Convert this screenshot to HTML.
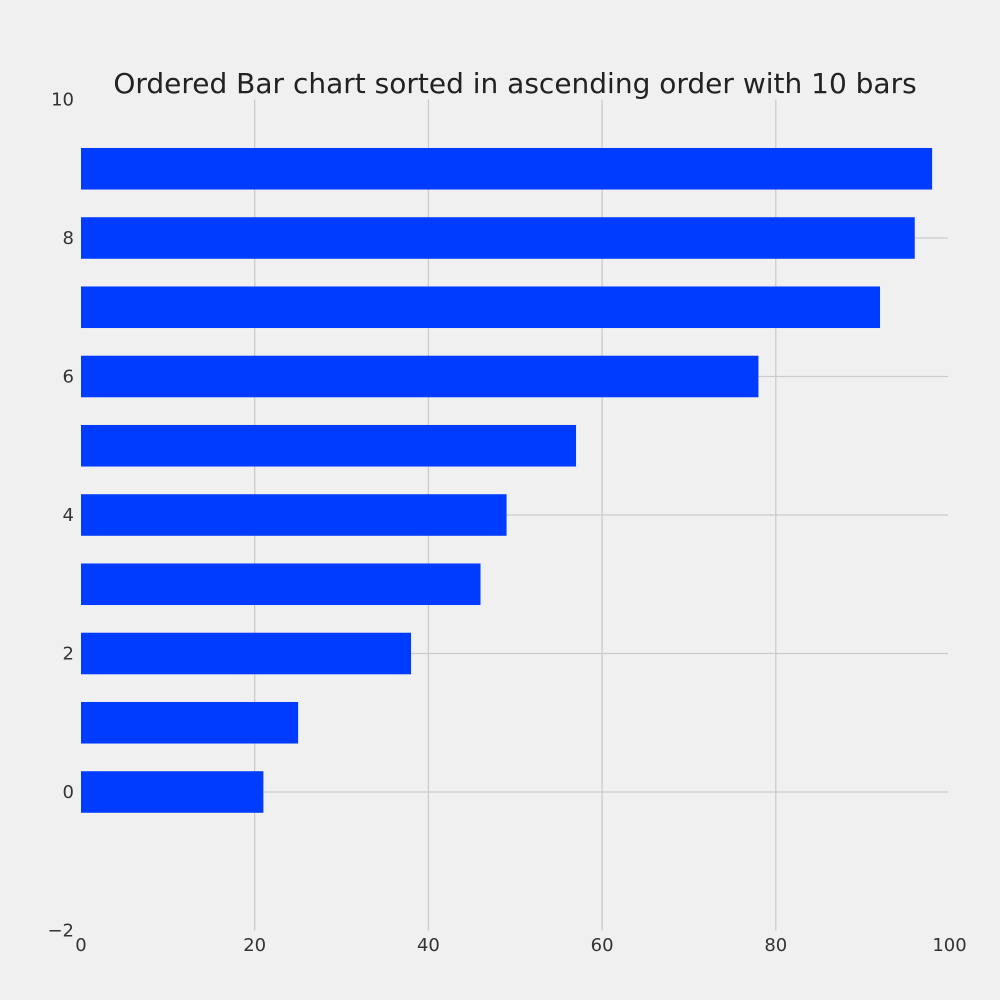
<!DOCTYPE html>
<html><head><meta charset="utf-8"><style>
html,body{margin:0;padding:0;background:#f0f0f0;}
svg{display:block;font-family:"DejaVu Sans","Liberation Sans",sans-serif;}
</style></head><body>
<svg id="chart" width="1000" height="1000">
<rect width="1000" height="1000" fill="#f0f0f0"/>
<text x="515" y="93" text-anchor="middle" font-size="28" fill="#222">Ordered Bar chart sorted in ascending order with 10 bars</text>
<g id="grid"></g><g id="bars"></g><g id="ticks"></g>
</svg>
<script>
const categories=[0,1,2,3,4,5,6,7,8,9];
const values=[21,25,38,46,49,57,78,92,96,98];
const xTicks=[0,20,40,60,80,100];
const yTicks=[-2,0,2,4,6,8,10];
const yTickLabels=["\u22122","0","2","4","6","8","10"];
const X0=81,X1=949.5,Y0=930.5,Y1=99.5;
const xs=v=>X0+(v-0)/(100-0)*(X1-X0);
const ys=v=>Y0+(v-(-2))/(10-(-2))*(Y1-Y0);
const NS="http://www.w3.org/2000/svg";
function mk(tag,attrs,parent){const e=document.createElementNS(NS,tag);for(const k in attrs)e.setAttribute(k,attrs[k]);parent.appendChild(e);return e;}
const grid=document.getElementById('grid'),bars=document.getElementById('bars'),ticks=document.getElementById('ticks');
xTicks.forEach(t=>{
  if(t>0&&t<100){const l=mk('line',{x1:xs(t),x2:xs(t),y1:Y1,y2:Y0,stroke:'#cbcbcb','stroke-width':1.3},grid);
  
  }
  const tx=mk('text',{x:xs(t),y:951,'text-anchor':'middle','font-size':18,fill:'#333'},ticks);
  tx.textContent=t;
  
  
});
yTicks.forEach((t,i)=>{
  if(t>-2&&t<10){const l=mk('line',{x1:X0,x2:948,y1:ys(t),y2:ys(t),stroke:'#cbcbcb','stroke-width':1.3},grid);
  
  }
  const tx=mk('text',{x:74,y:ys(t)+6,'text-anchor':'end','font-size':18,fill:'#333'},ticks);
  tx.textContent=yTickLabels[i];
  
  
});
categories.forEach((c,i)=>{
  const top=ys(c+0.3),bot=ys(c-0.3);
  const r=mk('rect',{x:xs(0),y:top,width:xs(values[i])-xs(0),height:bot-top,fill:'#003cff'},bars);
  
  
});
</script>
</body></html>
